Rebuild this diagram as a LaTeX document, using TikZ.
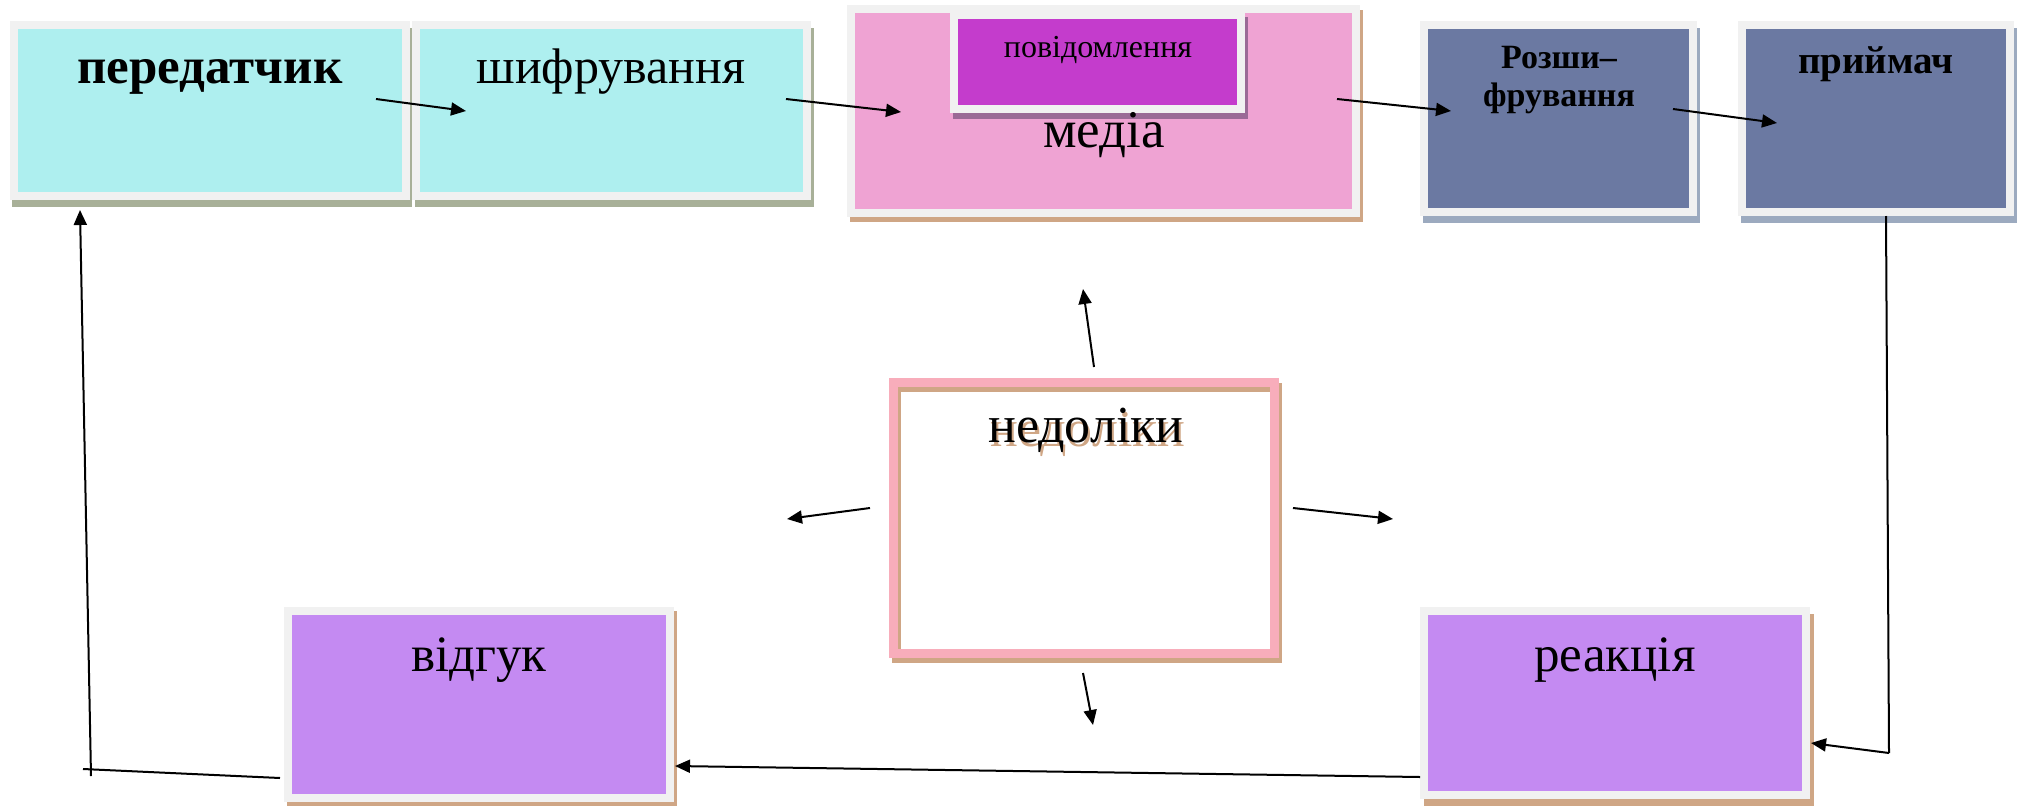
\documentclass[tikz,border=0pt]{standalone}
\usepackage{fontspec}
\setmainfont{Liberation Serif}
\usetikzlibrary{arrows.meta,backgrounds,calc}
\definecolor{framegray}{HTML}{F1F1F1}
\definecolor{cyanfill}{HTML}{AEEFEF}
\definecolor{oliveshadow}{HTML}{A8B098}
\definecolor{mediapink}{HTML}{EFA3D3}
\definecolor{tanshadow}{HTML}{CFA685}
\definecolor{msgmagenta}{HTML}{C43CCC}
\definecolor{msgshadow}{HTML}{9A6A96}
\definecolor{slateblue}{HTML}{6B79A2}
\definecolor{blueshadow}{HTML}{9CAABF}
\definecolor{lilac}{HTML}{C48AF2}
\definecolor{ringpink}{HTML}{F8ADBB}
\begin{document}
\begin{tikzpicture}[x=1pt,y=-1pt,
  boxframe/.style={rectangle, draw=framegray, line width=8pt, inner sep=0pt},
  txt/.style={anchor=base, inner sep=0pt, text=black},
  conn/.style={line width=2pt, draw=black},
  arr/.style={conn, -{Triangle[length=15pt,width=13pt]}}
]
\useasboundingbox (0,0) rectangle (2026,806);

% boxes
\node[boxframe, fill=cyanfill, minimum width=392.5pt, minimum height=171pt] (tx) at (209.75,110.5) {};
\node[boxframe, fill=cyanfill, minimum width=391pt, minimum height=171pt] (enc) at (611.5,110.5) {};
\node[boxframe, fill=mediapink, minimum width=505pt, minimum height=204pt] (media) at (1103.5,111) {};
\node[boxframe, fill=msgmagenta, minimum width=287pt, minimum height=94pt] (msg) at (1097.5,62) {};
\node[boxframe, fill=slateblue, minimum width=269pt, minimum height=187pt] (dec) at (1558.5,118.5) {};
\node[boxframe, fill=slateblue, minimum width=268pt, minimum height=187pt] (rx) at (1876,118.5) {};
\node[boxframe, fill=lilac, minimum width=382pt, minimum height=187pt] (fb) at (479,704.5) {};
\node[boxframe, fill=lilac, minimum width=382pt, minimum height=184pt] (re) at (1615,703) {};
\node[rectangle, draw=ringpink, line width=9pt, inner sep=0pt, minimum width=381pt, minimum height=271pt] (flaw) at (1084,518) {};

% shadows
\begin{pgfonlayer}{background}
  \fill[oliveshadow] ([shift={(2,7)}]tx.north west) rectangle ([shift={(2,7)}]tx.south east);
  \fill[oliveshadow] ([shift={(3,7)}]enc.north west) rectangle ([shift={(3,7)}]enc.south east);
  \fill[tanshadow] ([shift={(3,5)}]media.north west) rectangle ([shift={(3,5)}]media.south east);
  \fill[blueshadow] ([shift={(3,7)}]dec.north west) rectangle ([shift={(3,7)}]dec.south east);
  \fill[blueshadow] ([shift={(3,7)}]rx.north west) rectangle ([shift={(3,7)}]rx.south east);
  \fill[tanshadow] ([shift={(3,4)}]fb.north west) rectangle ([shift={(3,4)}]fb.south east);
  \fill[tanshadow] ([shift={(4,7)}]re.north west) rectangle ([shift={(4,7)}]re.south east);
  \draw[tanshadow, line width=9pt] ([shift={(2.5,4.5)}]flaw.center) ++(-190.5,-135.5) rectangle ++(381,271);
\end{pgfonlayer}
% message box shadow (above media)
\fill[msgshadow] ([shift={(3,6)}]msg.north west) rectangle ([shift={(3,6)}]msg.south east);
\node[boxframe, fill=msgmagenta, minimum width=287pt, minimum height=94pt] (msg2) at (1097.5,62) {};

% texts
\node[txt, font={\fontsize{51}{60}\selectfont\bfseries}] (txl) at (210,83) {передатчик};
\node[txt, font={\fontsize{50}{60}\selectfont}] (encl) at (611,83) {шифрування};
\node[txt, font={\fontsize{32}{38}\selectfont}] (msgl) at (1098,57) {повідомлення};
\node[txt, font={\fontsize{53}{60}\selectfont}] (medial) at (1104,147) {медіа};
\node[txt, font={\fontsize{34}{38}\selectfont\bfseries}] (decl1) at (1559,68) {Розши–};
\node[txt, font={\fontsize{34}{38}\selectfont\bfseries}] (decl2) at (1559,106) {фрування};
\node[txt, font={\fontsize{39}{46}\selectfont\bfseries}] (rxl) at (1876,73) {приймач};
\node[txt, text=tanshadow, font={\fontsize{52}{60}\selectfont}] (flawsh) at (1088,446) {недоліки};
\node[txt, font={\fontsize{52}{60}\selectfont}] (flawl) at (1086,442) {недоліки};
\node[txt, font={\fontsize{51}{60}\selectfont}] (fbl) at (479,671) {відгук};
\node[txt, font={\fontsize{51}{60}\selectfont}] (rel) at (1615,671) {реакція};

% connector end points
\coordinate (a1s) at (376,99);  \coordinate (a1e) at (466,111);
\coordinate (a2s) at (786,99);  \coordinate (a2e) at (901,112);
\coordinate (a3s) at (1337,99); \coordinate (a3e) at (1451,111);
\coordinate (a4s) at (1673,109); \coordinate (a4e) at (1777,123);
\coordinate (us) at (1094,367); \coordinate (ue) at (1083,289);
\coordinate (ls) at (870,508);  \coordinate (le) at (787,519);
\coordinate (rs) at (1293,508); \coordinate (re2) at (1393,519);
\coordinate (ds) at (1083,673); \coordinate (de) at (1093,725);
\coordinate (rxb) at (1886,216); \coordinate (rxc) at (1889,753); \coordinate (ree) at (1811,743);
\coordinate (res) at (1420,777); \coordinate (fbe) at (675,766);
\coordinate (fbs) at (280,778); \coordinate (fbc) at (83,769);
\coordinate (vs) at (91,776); \coordinate (txe) at (80,210);

\draw[arr] (a1s) -- (a1e);
\draw[arr] (a2s) -- (a2e);
\draw[arr] (a3s) -- (a3e);
\draw[arr] (a4s) -- (a4e);
\draw[arr] (us) -- (ue);
\draw[arr] (ls) -- (le);
\draw[arr] (rs) -- (re2);
\draw[arr] (ds) -- (de);
\draw[conn] (rxb) -- (rxc);
\draw[arr] (rxc) -- (ree);
\draw[arr] (res) -- (fbe);
\draw[conn] (fbs) -- (fbc);
\draw[arr] (vs) -- (txe);
\end{tikzpicture}
\end{document}
